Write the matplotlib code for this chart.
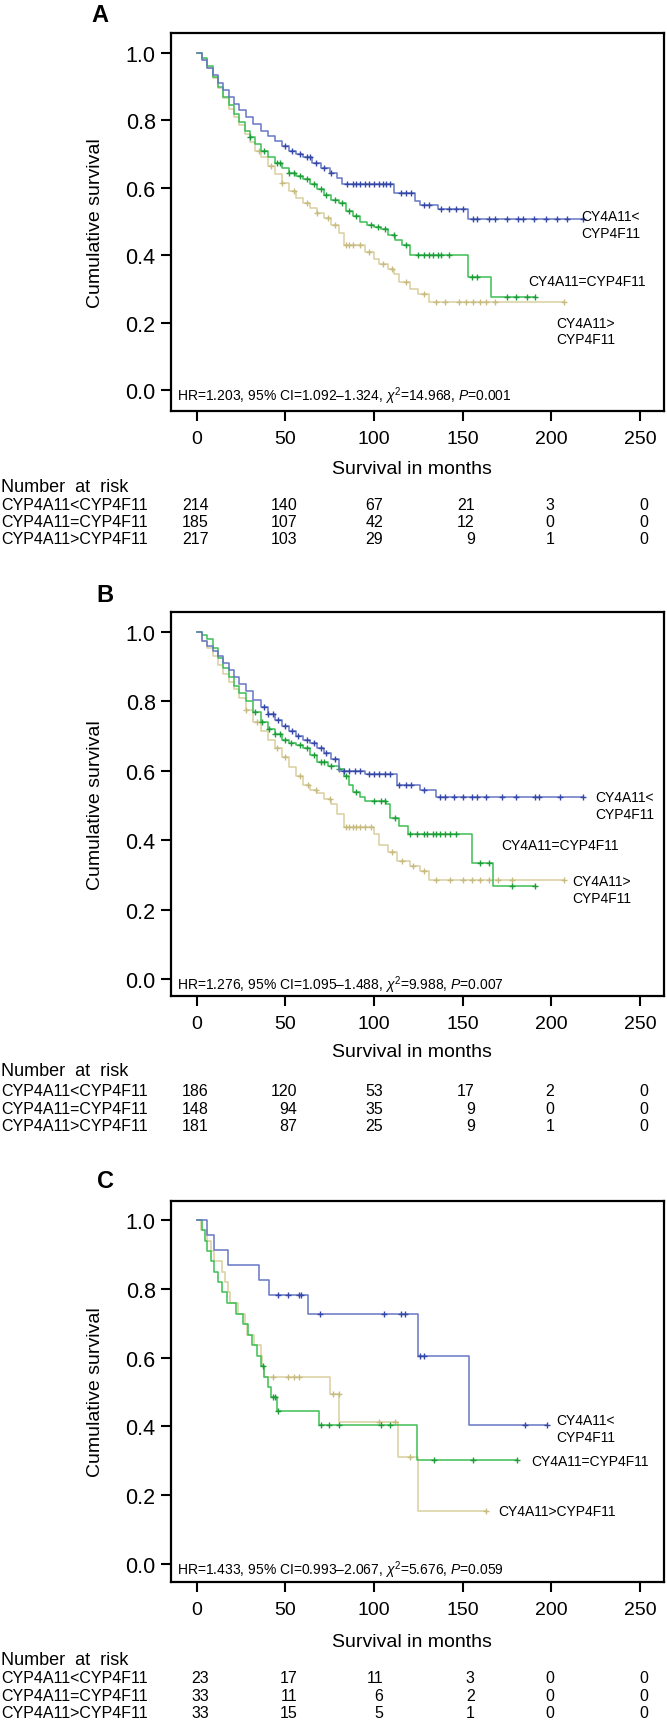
import numpy as np
import matplotlib
matplotlib.use("Agg")
import matplotlib.pyplot as plt
import matplotlib.transforms as mtransforms

plt.rcParams['font.family'] = ['Liberation Sans', 'DejaVu Sans']
plt.rcParams['mathtext.fontset'] = 'custom'
plt.rcParams['mathtext.rm'] = 'Liberation Sans'
plt.rcParams['mathtext.it'] = 'Liberation Sans:italic'

# ---- data (months, cumulative survival) ----
group_names = ['CYP4A11<CYP4F11', 'CYP4A11=CYP4F11', 'CYP4A11>CYP4F11']
risk_times = [0, 50, 100, 150, 200, 250]

# Panel A
a_blue_t = [0, 3, 6, 9, 12, 15, 18, 21, 24, 28, 32, 36, 40, 44, 48, 52, 56, 60, 65, 70, 75, 79, 82, 111, 123, 126, 136, 153, 218]
a_blue_s = [1.0, 0.98, 0.955, 0.935, 0.91, 0.89, 0.87, 0.85, 0.83, 0.81, 0.79, 0.77, 0.755, 0.74, 0.725, 0.71, 0.70, 0.69, 0.675, 0.66, 0.645, 0.63, 0.611, 0.585, 0.56, 0.55, 0.537, 0.507, 0.507]
a_blue_c = [50, 54, 58, 62, 64, 67, 72, 76, 85, 88, 90, 92, 95, 97, 100, 103, 105, 107, 109, 115, 118, 121, 128, 131, 138, 142, 146, 150, 156, 158, 165, 168, 175, 181, 184, 190, 197, 203, 209, 218]
a_green_t = [0, 3, 6, 9, 12, 15, 18, 21, 24, 27, 30, 33, 36, 40, 44, 48, 52, 56, 60, 64, 68, 72, 76, 80, 84, 88, 92, 96, 100, 104, 108, 112, 116, 120, 153, 166, 191]
a_green_s = [1.0, 0.985, 0.96, 0.93, 0.9, 0.87, 0.845, 0.82, 0.795, 0.77, 0.75, 0.73, 0.71, 0.69, 0.675, 0.66, 0.645, 0.635, 0.625, 0.61, 0.595, 0.58, 0.565, 0.555, 0.53, 0.515, 0.5, 0.49, 0.485, 0.478, 0.46, 0.445, 0.43, 0.40, 0.334, 0.277, 0.277]
a_green_c = [30, 38, 45, 47, 52, 55, 58, 62, 66, 70, 73, 78, 82, 86, 90, 98, 102, 106, 111, 118, 125, 128, 131, 133, 136, 138, 142, 155, 158, 175, 180, 186, 191]
a_tan_t = [0, 3, 6, 9, 12, 15, 18, 21, 24, 27, 30, 33, 36, 40, 44, 48, 52, 56, 60, 64, 68, 72, 76, 80, 83, 95, 100, 103, 108, 111, 114, 120, 125, 131, 207]
a_tan_s = [1.0, 0.98, 0.955, 0.925, 0.895, 0.865, 0.835, 0.81, 0.785, 0.76, 0.735, 0.71, 0.69, 0.665, 0.64, 0.615, 0.59, 0.57, 0.555, 0.54, 0.525, 0.51, 0.49, 0.465, 0.43, 0.41, 0.39, 0.375, 0.36, 0.345, 0.32, 0.30, 0.285, 0.26, 0.26]
a_tan_c = [35, 42, 48, 55, 62, 68, 74, 78, 84, 86, 88, 92, 97, 105, 110, 118, 128, 135, 140, 148, 152, 156, 160, 163, 168, 207]
a_risk = [[214, 140, 67, 21, 3, 0], [185, 107, 42, 12, 0, 0], [217, 103, 29, 9, 1, 0]]
a_stats = r'HR=1.203, 95% CI=1.092–1.324, $\chi^2$=14.968, $P$=0.001'

# Panel B
b_blue_t = [0, 3, 6, 9, 12, 15, 18, 21, 24, 28, 32, 36, 40, 44, 48, 52, 56, 60, 64, 68, 72, 76, 80, 95, 113, 126, 135, 218]
b_blue_s = [1.0, 0.975, 0.96, 0.945, 0.93, 0.91, 0.89, 0.87, 0.85, 0.83, 0.805, 0.785, 0.765, 0.745, 0.73, 0.715, 0.70, 0.69, 0.68, 0.665, 0.65, 0.635, 0.60, 0.59, 0.56, 0.544, 0.524, 0.524]
b_blue_c = [38, 40, 43, 46, 50, 54, 57, 62, 66, 70, 73, 78, 83, 86, 89, 92, 97, 100, 103, 106, 109, 114, 118, 121, 128, 137, 140, 145, 150, 155, 158, 163, 172, 180, 191, 193, 205, 218]
b_green_t = [0, 3, 6, 9, 12, 15, 18, 21, 24, 28, 32, 36, 40, 44, 48, 52, 56, 60, 64, 68, 74, 80, 83, 86, 88, 92, 95, 107, 109, 114, 119, 155, 167, 191]
b_green_s = [1.0, 0.99, 0.98, 0.955, 0.925, 0.895, 0.87, 0.845, 0.825, 0.80, 0.77, 0.74, 0.72, 0.705, 0.69, 0.68, 0.675, 0.665, 0.645, 0.625, 0.615, 0.605, 0.585, 0.56, 0.54, 0.525, 0.512, 0.505, 0.465, 0.44, 0.417, 0.335, 0.267, 0.267]
b_green_c = [33, 37, 41, 44, 47, 50, 53, 58, 62, 66, 70, 72, 76, 80, 84, 90, 100, 104, 106, 112, 120, 124, 128, 130, 133, 135, 137, 140, 143, 146, 160, 165, 178, 191]
b_tan_t = [0, 3, 6, 9, 12, 15, 18, 21, 24, 28, 32, 36, 40, 44, 48, 52, 56, 60, 64, 68, 72, 76, 79, 83, 100, 103, 108, 113, 120, 126, 131, 207]
b_tan_s = [1.0, 0.975, 0.955, 0.93, 0.905, 0.88, 0.855, 0.835, 0.81, 0.775, 0.74, 0.715, 0.69, 0.665, 0.64, 0.61, 0.585, 0.56, 0.545, 0.535, 0.52, 0.505, 0.475, 0.437, 0.417, 0.385, 0.365, 0.34, 0.325, 0.31, 0.286, 0.286]
b_tan_c = [28, 34, 45, 50, 58, 63, 67, 75, 84, 86, 88, 90, 92, 95, 98, 110, 116, 122, 128, 135, 143, 150, 155, 160, 165, 170, 178, 207]
b_risk = [[186, 120, 53, 17, 2, 0], [148, 94, 35, 9, 0, 0], [181, 87, 25, 9, 1, 0]]
b_stats = r'HR=1.276, 95% CI=1.095–1.488, $\chi^2$=9.988, $P$=0.007'

# Panel C
c_blue_t = [0, 6, 9.6, 17.5, 35, 40.7, 63, 125, 153.4, 197.7]
c_blue_s = [1.0, 0.955, 0.913, 0.87, 0.826, 0.782, 0.727, 0.605, 0.405, 0.405]
c_blue_c = [46, 51.5, 57.5, 59, 69.5, 105.5, 115, 117.5, 126, 128, 185, 197.7]
c_green_t = [0, 3, 4.5, 6, 8, 10, 12, 14, 17, 22, 26, 29, 31, 34, 36, 38, 40, 42, 45.5, 69, 124, 180.5]
c_green_s = [1.0, 0.97, 0.94, 0.91, 0.88, 0.85, 0.82, 0.79, 0.758, 0.727, 0.697, 0.667, 0.636, 0.606, 0.576, 0.545, 0.515, 0.485, 0.445, 0.405, 0.303, 0.303]
c_green_c = [37.5, 43, 44, 46, 70, 74.5, 80.5, 104, 109, 134, 156, 180.5]
c_tan_t = [0, 2.5, 6, 8, 10, 14, 16, 17.5, 19, 23, 27, 28.5, 32.5, 36, 37, 38, 75, 80.3, 113.4, 124.6, 163]
c_tan_s = [1.0, 0.97, 0.94, 0.91, 0.88, 0.85, 0.82, 0.79, 0.758, 0.727, 0.697, 0.667, 0.636, 0.606, 0.576, 0.545, 0.495, 0.412, 0.31, 0.155, 0.155]
c_tan_c = [43, 51.5, 55, 57.5, 76.7, 80, 103, 112, 120, 163]
c_risk = [[23, 17, 11, 3, 0, 0], [33, 11, 6, 2, 0, 0], [33, 15, 5, 1, 0, 0]]
c_stats = r'HR=1.433, 95% CI=0.993–2.067, $\chi^2$=5.676, $P$=0.059'

# ---- style ----
W, H = 667, 1724
blue, blue_mk = '#6677c4', '#3548a8'
green, green_mk = '#3cbf55', '#1f9c3a'
tan, tan_mk = '#d9cf9f', '#c8bb80'

fig = plt.figure(figsize=(W / 100, H / 100), dpi=100)


def fy(y):
    return 1 - y / H


def km(ax, t, s, cens, col, mk):
    t = np.asarray(t, float)
    s = np.asarray(s, float)
    ax.step(t, s, where='post', color=col, lw=1.1)
    c = np.asarray(cens, float)
    idx = np.searchsorted(t, c, side='right') - 1
    ax.plot(c, s[np.clip(idx, 0, len(s) - 1)], ls='none', marker='+', ms=5,
            mew=1.0, color=mk)


def panel(letter, top, bottom, y1, y0, curves, labels, stats, risk, rows_y, letter_x, letter_y):
    left, right = 171, 664
    ax = fig.add_axes([left / W, fy(bottom), (right - left) / W, (bottom - top) / H])
    ppu = y0 - y1
    ax.set_ylim(-(bottom - y0) / ppu, 1 + (y1 - top) / ppu)
    ax.set_xlim(-14.5, 263.5)
    for (t, s, c, col, mk) in curves:
        km(ax, t, s, c, col, mk)
    for (x, y, txt) in labels:
        ax.text(x, y, txt, fontsize=10, ha='left', va='center', linespacing=1.25)
    ax.text(-11, -0.015, stats, fontsize=10, ha='left', va='center')

    ax.set_xticks(risk_times)
    ax.set_yticks([0, 0.2, 0.4, 0.6, 0.8, 1.0])
    ax.set_yticklabels(['0.0', '0.2', '0.4', '0.6', '0.8', '1.0'])
    ax.tick_params(axis='y', direction='out', length=7, width=1.5, labelsize=15.5, pad=4)
    ax.tick_params(axis='x', direction='out', length=7, width=1.5, labelsize=14, pad=7)
    for sp in ax.spines.values():
        sp.set_linewidth(1.6)
    ax.set_ylabel('Cumulative survival', fontsize=14)
    ax.yaxis.set_label_coords(-0.135, 0.5)

    fig.text(letter_x / W, fy(letter_y), letter, fontsize=17, fontweight='bold',
             ha='center', va='center')
    fig.text(412 / W, fy(rows_y[0]), 'Survival in months', fontsize=14,
             ha='center', va='center')
    fig.text(1 / W, fy(rows_y[1]), 'Number  at  risk', fontsize=13,
             ha='left', va='center')
    trans = mtransforms.blended_transform_factory(ax.transData, fig.transFigure)
    offs = [6.8, 6.8, 5.0, 6.8, 1.7, 4.5]
    for i, name in enumerate(group_names):
        yy = fy(rows_y[2 + i])
        fig.text(1 / W, yy, name, fontsize=11.5, ha='left', va='center')
        for j, tm in enumerate(risk_times):
            ax.text(tm + offs[j], yy, str(risk[i][j]), fontsize=11.5, ha='right',
                    va='center', transform=trans)
    return ax


panel('A', 34, 412, 54, 391,
      [(a_tan_t, a_tan_s, a_tan_c, tan, tan_mk),
       (a_green_t, a_green_s, a_green_c, green, green_mk),
       (a_blue_t, a_blue_s, a_blue_c, blue, blue_mk)],
      [(217, 0.49, 'CY4A11<\nCYP4F11'), (187, 0.324, 'CY4A11=CYP4F11'),
       (203, 0.175, 'CY4A11>\nCYP4F11')],
      a_stats, a_risk, [470, 487, 506, 523, 540], 100, 16)

panel('B', 613, 997, 633, 980,
      [(b_tan_t, b_tan_s, b_tan_c, tan, tan_mk),
       (b_green_t, b_green_s, b_green_c, green, green_mk),
       (b_blue_t, b_blue_s, b_blue_c, blue, blue_mk)],
      [(225, 0.50, 'CY4A11<\nCYP4F11'), (172, 0.386, 'CY4A11=CYP4F11'),
       (212, 0.259, 'CY4A11>\nCYP4F11')],
      b_stats, b_risk, [1053, 1072, 1092, 1109, 1127], 105, 595)

panel('C', 1202, 1583, 1221, 1565,
      [(c_tan_t, c_tan_s, c_tan_c, tan, tan_mk),
       (c_green_t, c_green_s, c_green_c, green, green_mk),
       (c_blue_t, c_blue_s, c_blue_c, blue, blue_mk)],
      [(203, 0.394, 'CY4A11<\nCYP4F11'), (188.5, 0.30, 'CY4A11=CYP4F11'),
       (170, 0.154, 'CY4A11>CYP4F11')],
      c_stats, c_risk, [1643, 1661, 1679, 1697, 1714], 106, 1182)

fig.savefig('out.png', dpi=100)
